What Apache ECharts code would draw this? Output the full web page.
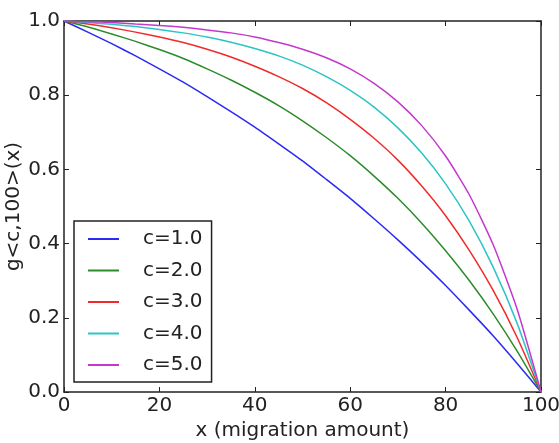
<!DOCTYPE html>
<html>
<head>
<meta charset="utf-8">
<title>g c,100 (x)</title>
<script src="https://cdn.jsdelivr.net/npm/echarts@6/dist/echarts.min.js"></script>
<style>
	html, body { margin: 0; padding: 0; background: #fff; }
	#chart { width: 559px; height: 443px; }
</style>
</head>
<body>
<div id="chart"></div>
<script>
// values, every 5 units of x
var xs = [0, 5, 10, 15, 20, 25, 30, 35, 40, 45, 50, 55, 60, 65, 70, 75, 80, 85, 90, 95, 100];
var c1 = [1.000, 0.970, 0.939, 0.906, 0.871, 0.835, 0.796, 0.756, 0.714, 0.669, 0.623, 0.573, 0.522, 0.467, 0.410, 0.350, 0.287, 0.220, 0.151, 0.077, 0.000];
var c2 = [1.000, 0.984, 0.965, 0.945, 0.923, 0.899, 0.871, 0.841, 0.808, 0.772, 0.731, 0.686, 0.637, 0.582, 0.522, 0.455, 0.381, 0.300, 0.210, 0.110, 0.000];
var c3 = [1.000, 0.992, 0.982, 0.970, 0.957, 0.942, 0.924, 0.903, 0.878, 0.850, 0.818, 0.780, 0.735, 0.684, 0.625, 0.555, 0.475, 0.381, 0.273, 0.147, 0.000];
var c4 = [1.000, 0.996, 0.991, 0.985, 0.977, 0.968, 0.957, 0.943, 0.926, 0.906, 0.881, 0.850, 0.813, 0.768, 0.712, 0.644, 0.561, 0.460, 0.336, 0.185, 0.000];
var c5 = [1.000, 0.998, 0.996, 0.992, 0.988, 0.983, 0.976, 0.968, 0.957, 0.942, 0.924, 0.901, 0.871, 0.832, 0.782, 0.718, 0.636, 0.531, 0.396, 0.223, 0.000];
var names = ["c=1.0", "c=2.0", "c=3.0", "c=4.0", "c=5.0"];
var colors = ["#2a2af5", "#2a8c2a", "#f22a2a", "#2cc4c4", "#c438cc"];

var xTicks = [0, 20, 40, 60, 80, 100];
var yTicks = ["0.0", "0.2", "0.4", "0.6", "0.8", "1.0"];

function pairs(ys) {
	var out = [];
	for (var i = 0; i < xs.length; i++) {
		out.push([xs[i], ys[i]]);
	}
	return out;
}

var font = "DejaVu Sans";
var ink = "#222";

// one side of the box round the plot, ticks pointing inward
function frameAxis(pos, min, max, step) {
	return {
		type: "value",
		position: pos,
		min: min,
		max: max,
		interval: step,
		axisLine: { show: true, onZero: false, lineStyle: { color: ink, width: 1.5 } },
		axisTick: { show: true, inside: true, length: 5, lineStyle: { color: ink, width: 1 } },
		axisLabel: { show: false },
		splitLine: { show: false }
	};
}

var xMain = frameAxis("bottom", xTicks[0], xTicks[xTicks.length - 1], 20);
xMain.name = "x (migration amount)";
xMain.nameLocation = "middle";
xMain.nameGap = 13;
xMain.nameTextStyle = { fontFamily: font, fontSize: 20, color: ink };
xMain.axisLabel = { show: true, margin: 4, fontFamily: font, fontSize: 20, color: ink };

var yMain = frameAxis("left", 0, 1, 0.2);
yMain.name = "g<c,100>(x)";
yMain.nameLocation = "middle";
yMain.nameGap = 40;
yMain.nameMoveOverlap = false;
yMain.nameTextStyle = { fontFamily: font, fontSize: 20, color: ink };
yMain.axisLabel = {
	show: true, margin: 4, fontFamily: font, fontSize: 20, color: ink,
	formatter: function(v) { return yTicks[Math.round(v / 0.2)]; }
};

var allYs = [c1, c2, c3, c4, c5];
var series = [];
for (var i = 0; i < allYs.length; i++) {
	series.push({
		name: names[i],
		type: "line",
		data: pairs(allYs[i]),
		smooth: 0.2,
		showSymbol: false,
		symbol: "none",
		lineStyle: { color: colors[i], width: 1.5 },
		itemStyle: { color: colors[i] },
		xAxisIndex: 0,
		yAxisIndex: 0,
		z: 2
	});
}

var chart = echarts.init(document.getElementById("chart"), null, { renderer: "canvas" });
chart.setOption({
	animation: false,
	backgroundColor: "#fff",
	grid: { left: 64, right: 18, top: 21, bottom: 51, containLabel: false, outerBoundsMode: "none" },
	xAxis: [xMain, frameAxis("top", 0, 100, 20)],
	yAxis: [yMain, frameAxis("right", 0, 1, 0.2)],
	legend: {
		data: names,
		orient: "vertical",
		left: 74,
		top: 221,
		icon: "rect",
		itemWidth: 31,
		itemHeight: 2,
		itemGap: 11.5,
		padding: [8, 9, 7, 14],
		borderColor: ink,
		borderWidth: 1.5,
		borderRadius: 0,
		backgroundColor: "#fff",
		selectedMode: false,
		textStyle: { fontFamily: font, fontSize: 20, lineHeight: 20, color: ink, padding: [0, 0, 0, 19] }
	},
	series: series
});
</script>
</body>
</html>
